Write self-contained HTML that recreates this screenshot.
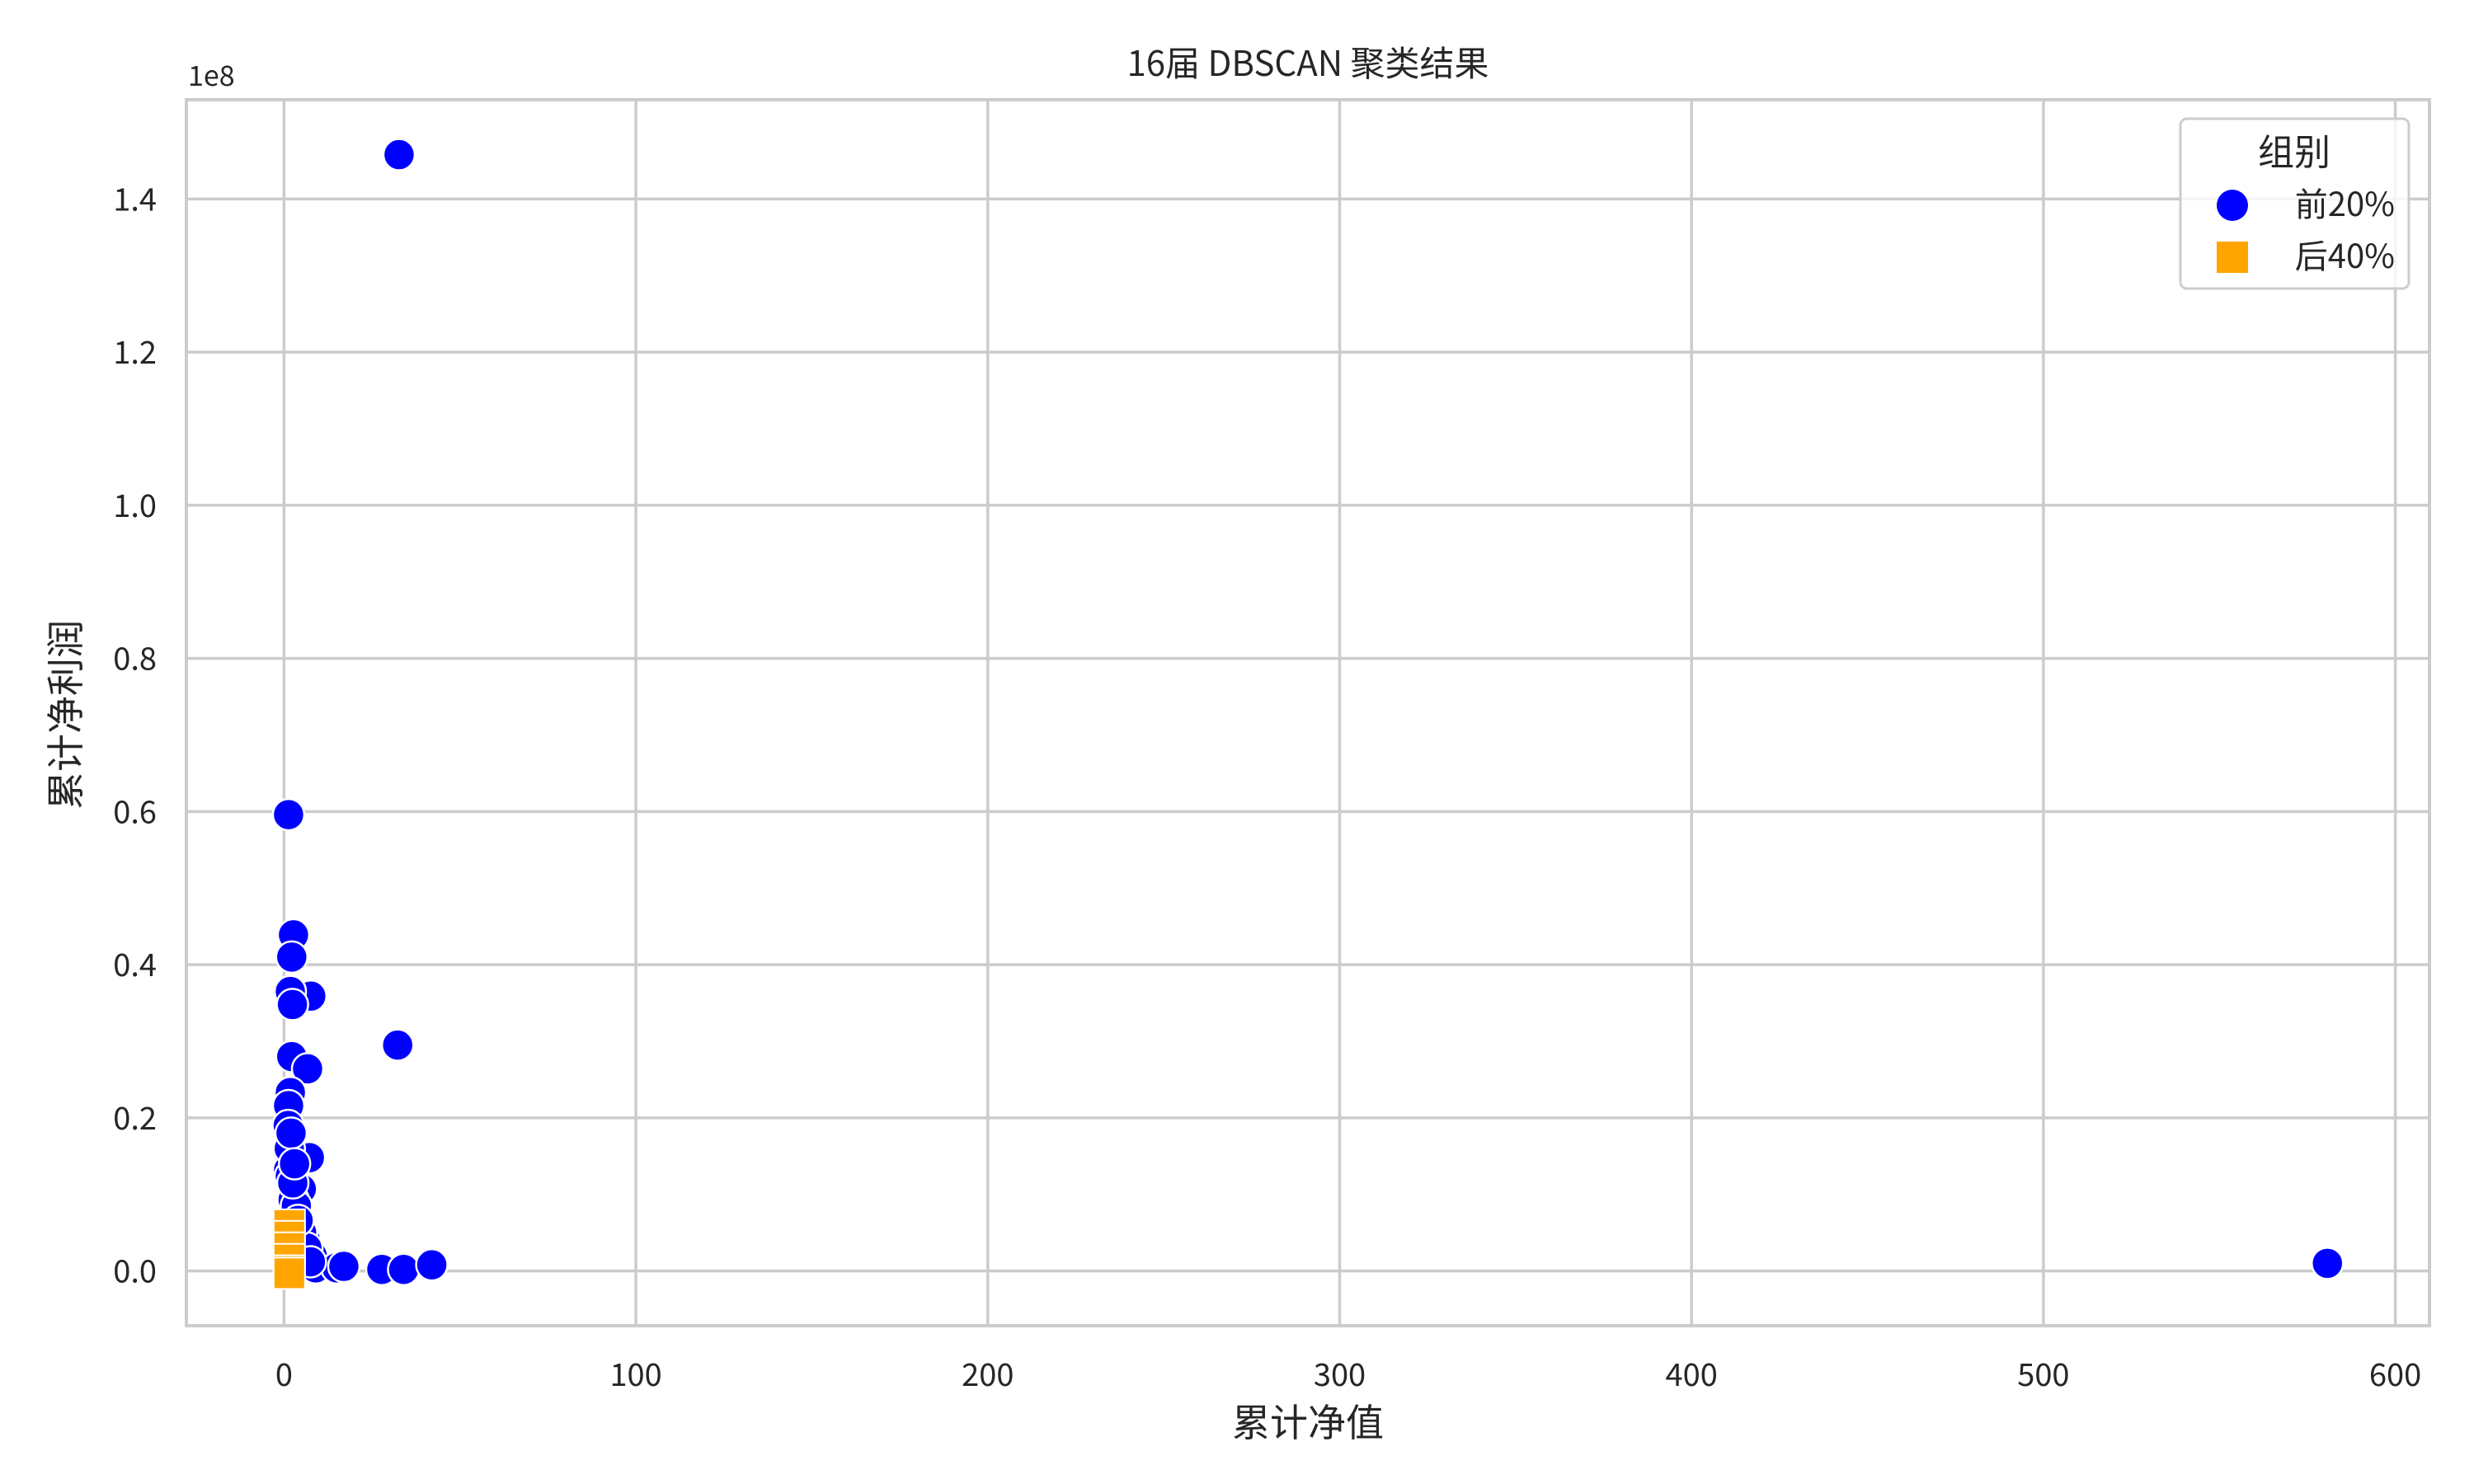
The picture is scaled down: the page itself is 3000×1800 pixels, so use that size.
<!DOCTYPE html>
<html><head><meta charset="utf-8">
<style>
html,body{margin:0;padding:0;background:#fff;}
svg{display:block;}
text{font-family:"WenQuanYi Zen Hei Mono","WenQuanYi Zen Hei","Noto Sans CJK SC",sans-serif;fill:#262626;}
</style></head>
<body>
<svg id="chart" width="3000" height="1800" viewBox="0 0 3000 1800" xmlns="http://www.w3.org/2000/svg">
<rect x="0" y="0" width="3000" height="1800" fill="#fff"/>
<g id="grid"></g>
<g id="marks"></g>
<rect x="226" y="121" width="2720" height="1487" fill="none" stroke="#cccccc" stroke-width="4"/>
<g id="ticks"></g>
<text x="1586" y="92" font-size="42" text-anchor="middle">16届 DBSCAN 聚类结果</text>
<text x="228" y="104" font-size="34">1e8</text>
<text x="1586" y="1742" font-size="46" text-anchor="middle">累计净值</text>
<text x="0" y="0" font-size="46" text-anchor="middle" transform="translate(96,867) rotate(-90)">累计净利润</text>
<g>
<rect x="2644" y="144" width="277" height="206" rx="8" fill="#fff" fill-opacity="0.8" stroke="#cccccc" stroke-width="3"/>
<text x="2782" y="200" font-size="44" text-anchor="middle">组别</text>
<g>
<circle cx="2707" cy="249" r="19" fill="#0000ff"/>
<text x="2904" y="262" font-size="40" text-anchor="end">前20%</text>
</g>
<g>
<rect x="2688" y="293" width="38" height="38" fill="#ffa500"/>
<text x="2904" y="325" font-size="40" text-anchor="end">后40%</text>
</g>
</g>
</svg>
<script>
const xTicks = [0, 100, 200, 300, 400, 500, 600];
const yTicks = [0, 0.2, 0.4, 0.6, 0.8, 1.0, 1.2, 1.4];
const yTickLabels = ["0.0","0.2","0.4","0.6","0.8","1.0","1.2","1.4"];
const topX = [32.7, 1.3, 2.7, 2.2, 7.6, 1.8, 2.4, 32.3, 2.2, 6.7, 1.8, 1.3, 1.8, 7.2, 1.8, 1.3, 4.9, 1.8, 2.6, 4.5, 6, 8, 9, 15, 17, 27.8, 34, 42, 580.7, 3, 5, 1.2, 1.5, 2, 3.5, 2.5, 3, 6.5, 7.5, 4];
const topY = [1.458, 0.596, 0.439, 0.41, 0.359, 0.365, 0.348, 0.295, 0.28, 0.264, 0.233, 0.216, 0.171, 0.148, 0.148, 0.132, 0.107, 0.124, 0.093, 0.062, 0.041, 0.02, 0.004, 0.004, 0.006, 0.002, 0.002, 0.008, 0.01, 0.075, 0.05, 0.19, 0.16, 0.18, 0.085, 0.115, 0.14, 0.03, 0.012, 0.066];
const botX = [1.5, 1.5, 1.5, 1.5, 1.5, 1.5];
const botY = [0.06, 0.045, 0.03, 0.015, 0.0, -0.003];

const X0 = 344.4, XS = 4.267, Y0 = 1541.6, YS = 928.7;
function sx(v){ return X0 + v * XS; }
function sy(v){ return Y0 - v * YS; }
const NS = "http://www.w3.org/2000/svg";
const grid = document.getElementById('grid');
const ticks = document.getElementById('ticks');
const marks = document.getElementById('marks');

xTicks.forEach(function(t){
  const l = document.createElementNS(NS,'line');
  l.setAttribute('x1', sx(t)); l.setAttribute('x2', sx(t));
  l.setAttribute('y1', 121); l.setAttribute('y2', 1608);
  l.setAttribute('stroke', '#cccccc'); l.setAttribute('stroke-width', '3.5');
  
  
  grid.appendChild(l);
  const tx = document.createElementNS(NS,'text');
  tx.setAttribute('x', sx(t)); tx.setAttribute('y', 1681);
  tx.setAttribute('font-size', '38'); tx.setAttribute('text-anchor', 'middle');
  tx.textContent = String(t);
  
  
  ticks.appendChild(tx);
});
yTicks.forEach(function(t, i){
  const l = document.createElementNS(NS,'line');
  l.setAttribute('x1', 226); l.setAttribute('x2', 2946);
  l.setAttribute('y1', sy(t)); l.setAttribute('y2', sy(t));
  l.setAttribute('stroke', '#cccccc'); l.setAttribute('stroke-width', '3.5');
  
  
  grid.appendChild(l);
  const tx = document.createElementNS(NS,'text');
  tx.setAttribute('x', 190); tx.setAttribute('y', sy(t) + 14);
  tx.setAttribute('font-size', '38'); tx.setAttribute('text-anchor', 'end');
  tx.textContent = yTickLabels[i];
  
  
  ticks.appendChild(tx);
});
topX.forEach(function(v, i){
  const c = document.createElementNS(NS,'circle');
  c.setAttribute('cx', sx(v)); c.setAttribute('cy', sy(topY[i]));
  c.setAttribute('r', 19); c.setAttribute('fill', '#0000ff');
  c.setAttribute('stroke', '#ffffff'); c.setAttribute('stroke-width', '2.5');
  
  
  marks.appendChild(c);
});
botX.forEach(function(v, i){
  const r = document.createElementNS(NS,'rect');
  r.setAttribute('x', sx(v) - 19); r.setAttribute('y', sy(botY[i]) - 19);
  r.setAttribute('width', 38); r.setAttribute('height', 38);
  r.setAttribute('fill', '#ffa500');
  r.setAttribute('stroke', '#ffffff'); r.setAttribute('stroke-width', '2');
  
  
  marks.appendChild(r);
});
</script>
</body></html>
